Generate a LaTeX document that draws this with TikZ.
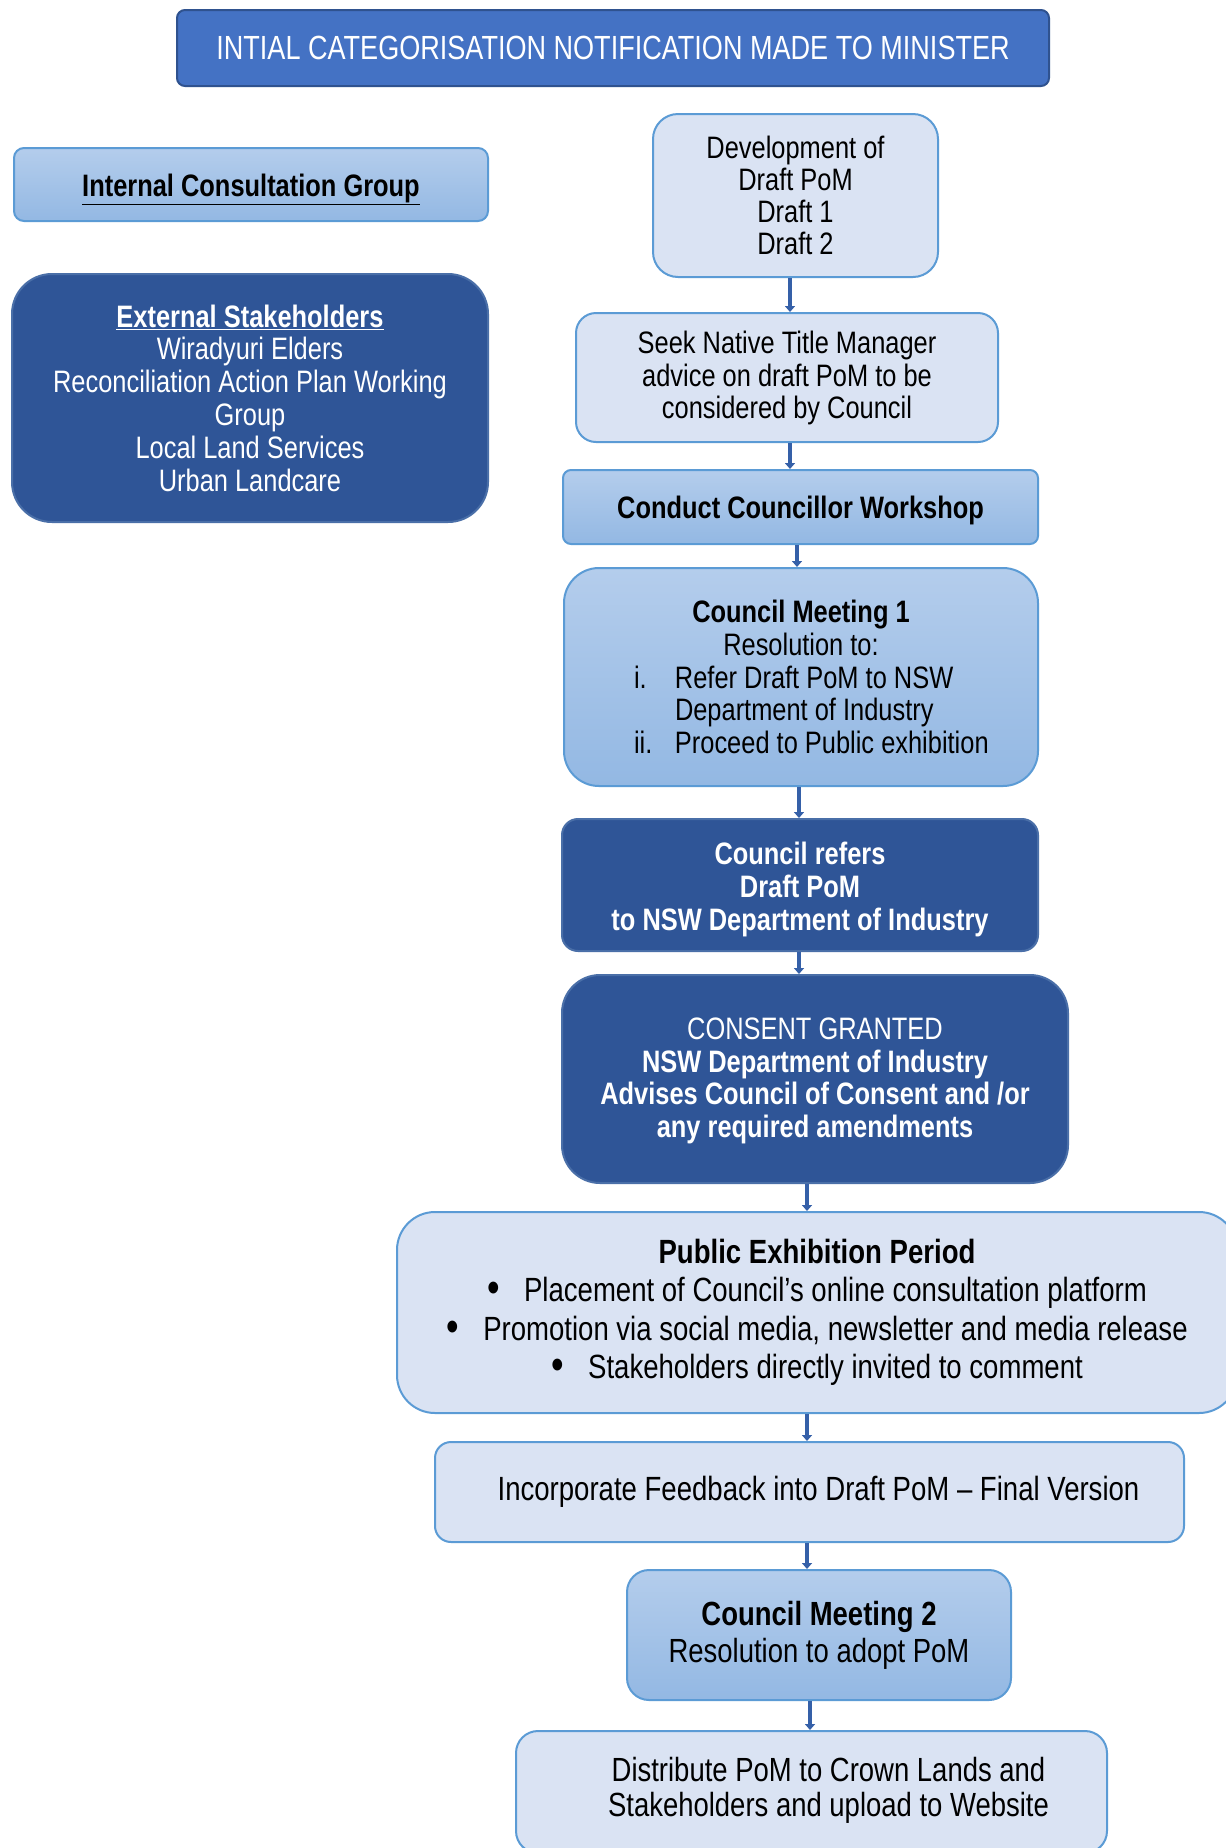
\documentclass[tikz,border=0pt]{standalone}
\usepackage{fontspec}
\setmainfont{Liberation Sans}[FakeStretch=0.82]
\usetikzlibrary{arrows.meta}
\definecolor{lightF}{HTML}{DAE3F3}
\definecolor{bordL}{HTML}{5B9BD5}
\definecolor{midT}{HTML}{B4CDEC}
\definecolor{midB}{HTML}{93B8E3}
\definecolor{darkF}{HTML}{2F5597}
\definecolor{bordD}{HTML}{4A6FA8}
\definecolor{titleF}{HTML}{4472C4}
\definecolor{titleB}{HTML}{2F528F}
\definecolor{arrowC}{HTML}{3560A8}
\tikzset{
  boxbase/.style={anchor=north west, align=center, inner sep=0pt, line width=2pt},
  lightbox/.style={boxbase, draw=bordL, fill=lightF},
  midbox/.style={boxbase, draw=bordL, top color=midT, bottom color=midB},
  darkbox/.style={boxbase, draw=bordD, fill=darkF, text=white},
  titlebox/.style={boxbase, draw=titleB, fill=titleF, text=white},
  conn/.style={draw=arrowC, line width=3.5pt, -{Triangle[width=10pt,length=6pt]}},
  bodyfont/.style={font=\fontsize{31}{32.6}\selectfont},
  bigfont/.style={font=\fontsize{33.6}{38.5}\selectfont}
}
\newcommand{\bigdot}{\raisebox{-1pt}{\scalebox{1.3}{\textbullet}}}
\newcommand{\lowered}[2]{\raisebox{-#1}[\height][\depth]{#2}}
\begin{document}
\begin{tikzpicture}[x=1pt,y=-1pt]
\useasboundingbox[fill=white] (0,0) rectangle (1226,1848);

\node[titlebox, rounded corners=8pt, minimum width=872pt, minimum height=76pt,
  font=\fontsize{33.5}{38}\selectfont] (title) at (176,9)
  {\scalebox{0.985}[1]{INTIAL CATEGORISATION NOTIFICATION MADE TO MINISTER}};

\node[midbox, rounded corners=10pt, minimum width=474pt, minimum height=73pt, bodyfont] (internal) at (13,147)
  {\lowered{5pt}{\underline{\textbf{Internal Consultation Group}}}};

\node[darkbox, rounded corners=40pt, minimum width=476pt, minimum height=248pt,
  font=\fontsize{31}{32.8}\selectfont] (external) at (11,273)
  {\underline{\textbf{External Stakeholders}}\\Wiradyuri Elders\\Reconciliation Action Plan Working\\Group\\Local Land Services\\Urban Landcare};

\node[lightbox, rounded corners=25pt, minimum width=285pt, minimum height=163pt,
  font=\fontsize{31}{32.2}\selectfont] (dev) at (652,113)
  {Development of\\Draft PoM\\Draft 1\\Draft 2};

\node[lightbox, rounded corners=20pt, minimum width=422pt, minimum height=129pt, bodyfont] (seek) at (575,312)
  {\lowered{2pt}{\begin{tabular}{@{}c@{}}Seek Native Title Manager\\advice on draft PoM to be\\considered by Council\end{tabular}}};

\node[midbox, rounded corners=8pt, minimum width=475pt, minimum height=74pt, bodyfont] (workshop) at (562,469)
  {\lowered{3pt}{\textbf{Conduct Councillor Workshop}}};

\node[midbox, rounded corners=35pt, minimum width=474pt, minimum height=218pt, bodyfont] (cm1) at (563,567)
  {\begin{minipage}{474pt}\centering\textbf{Council Meeting 1}\\Resolution to:\par
   \raggedright
   \hspace*{70pt}\makebox[41pt][l]{i.}Refer Draft PoM to NSW\\
   \hspace*{111pt}Department of Industry\\
   \hspace*{70pt}\makebox[41pt][l]{ii.}Proceed to Public exhibition
   \end{minipage}};

\node[darkbox, rounded corners=16pt, minimum width=476pt, minimum height=132pt, bodyfont] (refers) at (561,818)
  {\lowered{6pt}{\begin{tabular}{@{}c@{}}\textbf{Council refers}\\\textbf{Draft PoM}\\\textbf{to NSW Department of Industry}\end{tabular}}};

\node[darkbox, rounded corners=38pt, minimum width=506pt, minimum height=208pt, bodyfont] (consent) at (561,974)
  {\lowered{3pt}{\begin{tabular}{@{}c@{}}CONSENT GRANTED\\\textbf{NSW Department of Industry}\\\textbf{Advises Council of Consent and /or}\\\textbf{any required amendments}\end{tabular}}};

\node[lightbox, rounded corners=38pt, minimum width=840pt, minimum height=201pt, bigfont] (public) at (396,1211)
  {\textbf{Public Exhibition Period}\\
   \makebox[37pt][l]{\bigdot}Placement of Council’s online consultation platform\\
   \makebox[37pt][l]{\bigdot}Promotion via social media, newsletter and media release\\
   \makebox[37pt][l]{\bigdot}Stakeholders directly invited to comment};

\node[lightbox, rounded corners=16pt, minimum width=749pt, minimum height=100pt, bigfont] (incorp) at (434,1441)
  {\hspace*{18pt}Incorporate Feedback into Draft PoM – Final Version};

\node[midbox, rounded corners=22pt, minimum width=384pt, minimum height=130pt,
  font=\fontsize{33.5}{37}\selectfont] (cm2) at (626,1569)
  {\textbf{Council Meeting 2}\\Resolution to adopt PoM};

\node[lightbox, rounded corners=22pt, minimum width=591pt, minimum height=122pt,
  font=\fontsize{33.5}{34}\selectfont] (dist) at (515,1730)
  {\hspace*{34pt}\begin{tabular}{@{}c@{}}Distribute PoM to Crown Lands and\\Stakeholders and upload to Website\end{tabular}};

\coordinate (xa) at (790,0);
\coordinate (xb) at (797,0);
\coordinate (xc) at (799,0);
\coordinate (xd) at (807,0);
\coordinate (xe) at (810,0);

\draw[conn] (dev.south -| xa) -- (seek.north -| xa);
\draw[conn] (seek.south -| xa) -- (workshop.north -| xa);
\draw[conn] (workshop.south -| xb) -- (cm1.north -| xb);
\draw[conn] (cm1.south -| xc) -- (refers.north -| xc);
\draw[conn] (refers.south -| xc) -- (consent.north -| xc);
\draw[conn] (consent.south -| xd) -- (public.north -| xd);
\draw[conn] (public.south -| xd) -- (incorp.north -| xd);
\draw[conn] (incorp.south -| xd) -- (cm2.north -| xd);
\draw[conn] (cm2.south -| xe) -- (dist.north -| xe);
\end{tikzpicture}
\end{document}
